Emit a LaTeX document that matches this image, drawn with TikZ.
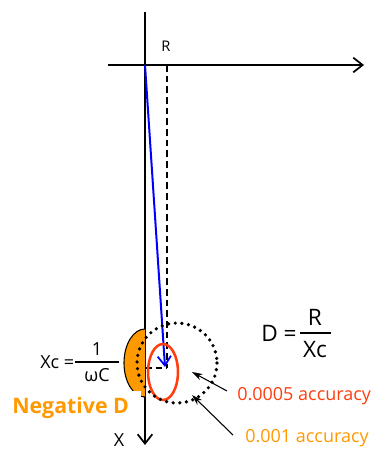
\documentclass[tikz,border=0pt]{standalone}
\usepackage{fontspec}
\setmainfont{Open Sans}
\usetikzlibrary{arrows.meta}
\definecolor{accred}{HTML}{FF3D0D}
\definecolor{accorange}{HTML}{FF9900}
\definecolor{phasorblue}{HTML}{0000FF}

\begin{document}
\begin{tikzpicture}[x=0.75pt,y=-0.75pt,
  axisline/.style={line width=1.5pt,-{Straight Barb[length=7pt,width=11pt,line width=1.3pt]}},
  pointer/.style={line width=0.8pt,-{Stealth[length=8pt,width=5pt]}},
  lbl/.style={inner sep=0pt,font=\fontsize{13.5}{16}\selectfont}]
\useasboundingbox (0,0) rectangle (381,450);
% axes
\coordinate (O) at (145,65);
\coordinate (rtop) at (167,65);
\coordinate (rfoot) at (167,368);
\coordinate (xfoot) at (145,368);
\draw[axisline] (108,65) -- (364,65);
\draw[axisline] (145,12) -- (145,445);
\node[lbl] (xlbl) at (119,440) {X};
\node[lbl,font=\fontsize{11}{13}\selectfont] (rlbl) at (166,46) {R};
% negative D region
\fill[accorange] (145,397) arc[start angle=90,end angle=270,x radius=21,y radius=34] -- cycle;
\draw[line width=0.8pt] (145,397) arc[start angle=90,end angle=270,x radius=21,y radius=34];
% projections
\draw[line width=1.2pt,dash pattern=on 5pt off 3pt] (rtop) -- (rfoot);
\draw[line width=1.2pt,dash pattern=on 5pt off 3pt] (xfoot) -- (rfoot);
% phasor
\draw[phasorblue,line width=1.5pt,-{Straight Barb[length=7pt,width=10pt,line width=1.3pt]}] (O) -- (165,367);
% accuracy regions
\draw[accred,line width=1.9pt] (163,372) ellipse [x radius=15,y radius=28];
\draw[line width=2.7pt,dash pattern=on 0pt off 5pt,line cap=round] (177,363) circle [radius=40];
\node[lbl,anchor=west] (xc) at (40,362) {Xc =};
\draw[line width=0.9pt] (75,362) -- (119,362);
\node[lbl] (one) at (97,349) {1};
\node[lbl] (wc) at (97,375) {ωC};
\node[anchor=west,fill=white,inner xsep=9pt,inner ysep=5pt,text=accorange,font=\fontsize{16}{18}\selectfont\bfseries] (negD) at (0,408) {Negative D};
% D formula
\node[lbl,font=\fontsize{17}{19}\selectfont] (dlbl) at (279,333) {D =};
\draw[line width=0.9pt] (300,333) -- (331,333);
\node[lbl,font=\fontsize{17}{19}\selectfont] (dnum) at (315,317) {R};
\node[lbl,font=\fontsize{17}{19}\selectfont] (dden) at (315,350) {Xc};
% accuracy labels
\node[lbl,anchor=west,text=accred] (fine) at (237,396) {0.0005 accuracy};
\node[lbl,anchor=west,text=accorange] (coarse) at (245,438) {0.001 accuracy};
\draw[pointer] (fine.west) ++(-10,-5) coordinate (fs) -- (192,372);
\draw[pointer] (coarse.west) ++(-12,-3) coordinate (cs) -- (192,395);
\end{tikzpicture}
\end{document}
